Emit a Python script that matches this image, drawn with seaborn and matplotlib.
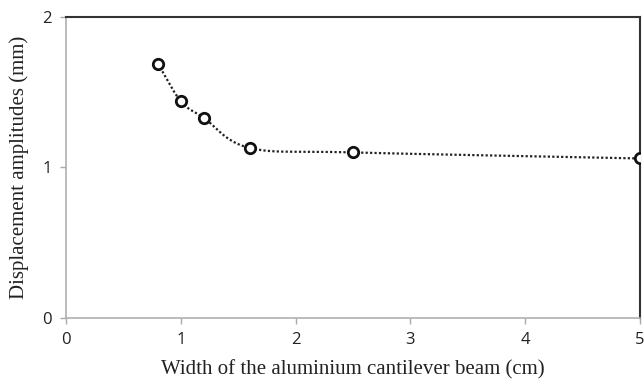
import numpy as np
import pandas as pd
import seaborn as sns
import matplotlib
matplotlib.use("Agg")
import matplotlib.pyplot as plt

width_cm = [0.8, 1.0, 1.2, 1.6, 2.5, 5.0]
displacement_mm = [1.69, 1.44, 1.33, 1.13, 1.10, 1.06]
x_ticks = [0, 1, 2, 3, 4, 5]
y_ticks = [0, 1, 2]

sns.set_theme(style="white")

def catmull_rom(xs, ys, n=40):
    xs = np.asarray(xs, float); ys = np.asarray(ys, float)
    px = np.concatenate([[2*xs[0]-xs[1]], xs, [2*xs[-1]-xs[-2]]])
    py = np.concatenate([[2*ys[0]-ys[1]], ys, [2*ys[-1]-ys[-2]]])
    ox, oy = [], []
    for i in range(1, len(px)-2):
        t = np.linspace(0, 1, n, endpoint=(i == len(px)-3))
        for arr, out in ((px, ox), (py, oy)):
            p0, p1, p2, p3 = arr[i-1], arr[i], arr[i+1], arr[i+2]
            out.extend(0.5*((2*p1) + (-p0+p2)*t + (2*p0-5*p1+4*p2-p3)*t**2 + (-p0+3*p1-3*p2+p3)*t**3))
    return np.array(ox), np.array(oy)

cx, cy = catmull_rom(width_cm, displacement_mm)
curve = pd.DataFrame({"x": cx, "y": cy})
pts = pd.DataFrame({"x": width_cm, "y": displacement_mm})

fig = plt.figure(figsize=(6.44, 3.81), dpi=100)
ax = fig.add_axes([0.1025, 0.1654, 0.8913, 0.79])
sns.lineplot(data=curve, x="x", y="y", sort=False, ax=ax, color="#222222",
             linestyle=(0, (1, 1)), linewidth=1.6)
ax.plot(pts["x"], pts["y"], linestyle="none", marker="o", markersize=7.5,
        markerfacecolor="white", markeredgecolor="#111111", markeredgewidth=2.0,
        clip_on=True, zorder=3)

ax.set_xlim(0, 5)
ax.set_ylim(0, 2)
ax.set_xticks(x_ticks)
ax.set_yticks(y_ticks)
ax.set_xticklabels([str(v) for v in x_ticks], fontsize=12, family="Open Sans", color="#222222")
ax.set_yticklabels([str(v) for v in y_ticks], fontsize=12, family="Open Sans", color="#222222")
ax.tick_params(axis="both", which="both", direction="out", length=4, width=1,
               color="#aaaaaa", bottom=True, left=True, pad=6)

for s in ["left", "bottom"]:
    ax.spines[s].set_color("#b0b0b0")
    ax.spines[s].set_linewidth(1.2)
for s in ["top", "right"]:
    ax.spines[s].set_color("#333333")
    ax.spines[s].set_linewidth(1.5)

ax.set_xlabel("Width of the aluminium cantilever beam (cm)", fontsize=15,
              family="Liberation Serif", color="#222222", labelpad=9)
ax.set_ylabel("Displacement amplitudes (mm)", fontsize=15,
              family="Liberation Serif", color="#222222", labelpad=10)

fig.savefig("out.png", dpi=100)
